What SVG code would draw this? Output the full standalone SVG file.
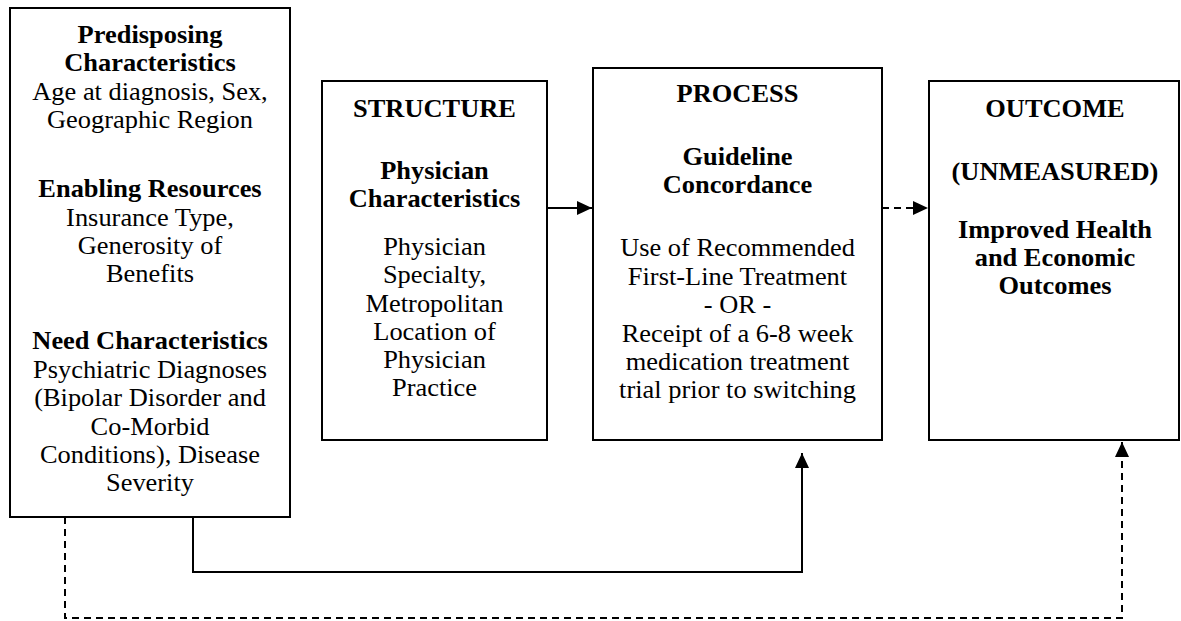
<svg xmlns="http://www.w3.org/2000/svg" width="1181" height="621" viewBox="0 0 1181 621">
<defs>
<style>
.box{fill:#fff;stroke:#000;stroke-width:2}
.t{font-family:"Liberation Serif","Times New Roman",serif;font-size:24.5px;fill:#000;text-anchor:middle}
.b{font-weight:bold}
.ln{fill:none;stroke:#000;stroke-width:2}
.dash{stroke-dasharray:7 5}
</style>
<marker id="ah" markerUnits="userSpaceOnUse" markerWidth="16" markerHeight="15" refX="15" refY="7" orient="auto">
<path d="M0,0 L15,7 L0,14 z" fill="#000"/>
</marker>
</defs>
<rect width="1181" height="621" fill="#fff"/>
<g id="connectors">
<path class="ln" d="M547,208 H592" marker-end="url(#ah)"/>
<path class="ln dash" d="M882,208 H928" marker-end="url(#ah)"/>
<path class="ln" d="M193,517 V572 H802 V453" marker-end="url(#ah)"/>
<path class="ln dash" d="M65,517 V618 H1122 V442" marker-end="url(#ah)"/>
</g>
<g id="node-patient">
<rect class="box" x="10" y="8" width="280" height="509"/>
<g transform="translate(150,0) scale(1.078,1)">
<text x="0" y="43" class="t b">Predisposing</text>
<text x="0" y="71" class="t b">Characteristics</text>
<text x="0" y="100" class="t">Age at diagnosis, Sex,</text>
<text x="0" y="128" class="t">Geographic Region</text>
<text x="0" y="197" class="t b">Enabling Resources</text>
<text x="0" y="226" class="t">Insurance Type,</text>
<text x="0" y="254" class="t">Generosity of</text>
<text x="0" y="282" class="t">Benefits</text>
<text x="0" y="349" class="t b">Need Characteristics</text>
<text x="0" y="378" class="t">Psychiatric Diagnoses</text>
<text x="0" y="406" class="t">(Bipolar Disorder and</text>
<text x="0" y="435" class="t">Co-Morbid</text>
<text x="0" y="463" class="t">Conditions), Disease</text>
<text x="0" y="491" class="t">Severity</text>
</g>
</g>
<g id="node-structure">
<rect class="box" x="322" y="81" width="225" height="359"/>
<g transform="translate(434.5,0) scale(1.078,1)">
<text x="0" y="117" class="t b">STRUCTURE</text>
<text x="0" y="179" class="t b">Physician</text>
<text x="0" y="207" class="t b">Characteristics</text>
<text x="0" y="255" class="t">Physician</text>
<text x="0" y="283" class="t">Specialty,</text>
<text x="0" y="312" class="t">Metropolitan</text>
<text x="0" y="340" class="t">Location of</text>
<text x="0" y="368" class="t">Physician</text>
<text x="0" y="396" class="t">Practice</text>
</g>
</g>
<g id="node-process">
<rect class="box" x="593" y="68" width="289" height="372"/>
<g transform="translate(737.5,0) scale(1.078,1)">
<text x="0" y="102" class="t b">PROCESS</text>
<text x="0" y="165" class="t b">Guideline</text>
<text x="0" y="193" class="t b">Concordance</text>
<text x="0" y="256" class="t">Use of Recommended</text>
<text x="0" y="285" class="t">First-Line Treatment</text>
<text x="0" y="313" class="t">- OR -</text>
<text x="0" y="342" class="t">Receipt of a 6-8 week</text>
<text x="0" y="370" class="t">medication treatment</text>
<text x="0" y="398" class="t">trial prior to switching</text>
</g>
</g>
<g id="node-outcome">
<rect class="box" x="929" y="81" width="250" height="359"/>
<g transform="translate(1055,0) scale(1.078,1)">
<text x="0" y="117" class="t b">OUTCOME</text>
<text x="0" y="180" class="t b">(UNMEASURED)</text>
<text x="0" y="238" class="t b">Improved Health</text>
<text x="0" y="266" class="t b">and Economic</text>
<text x="0" y="294" class="t b">Outcomes</text>
</g>
</g>
</svg>
